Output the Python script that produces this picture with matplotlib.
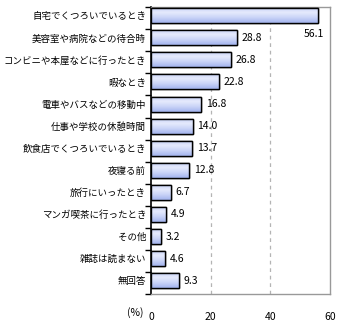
import numpy as np
import matplotlib
matplotlib.use("Agg")
import matplotlib.pyplot as plt
from matplotlib.colors import LinearSegmentedColormap

plt.rcParams["font.family"] = ["Noto Sans CJK JP", "DejaVu Sans"]
plt.rcParams["font.size"] = 7.5

categories = [
    "自宅でくつろいでいるとき",
    "美容室や病院などの待合時",
    "コンビニや本屋などに行ったとき",
    "暇なとき",
    "電車やバスなどの移動中",
    "仕事や学校の休憩時間",
    "飲食店でくつろいでいるとき",
    "夜寝る前",
    "旅行にいったとき",
    "マンガ喫茶に行ったとき",
    "その他",
    "雑誌は読まない",
    "無回答",
]
values = [56.1, 28.8, 26.8, 22.8, 16.8, 14.0, 13.7, 12.8, 6.7, 4.9, 3.2, 4.6, 9.3]
xticks = [0, 20, 40, 60]

fig = plt.figure(figsize=(3.4, 3.25), dpi=100)
ax = fig.add_axes([0.444, 0.095, 0.527, 0.883])

n = len(categories)
pos = np.arange(n) + 0.39
bar_h = 0.68

grad = LinearSegmentedColormap.from_list(
    "bar", ["#c3cdf5", "#e6ebfd", "#c9d3f7", "#a3b3ee"])
gimg = np.linspace(0, 1, 64).reshape(-1, 1)

bars = ax.barh(pos, values, height=bar_h, color="#c5cff6",
               edgecolor="black", linewidth=1.0, zorder=3)
for b in bars:
    x0, y0 = b.get_x(), b.get_y()
    w, h = b.get_width(), b.get_height()
    im = ax.imshow(gimg, cmap=grad, aspect="auto",
                   extent=(x0, x0 + w, y0 + h, y0), zorder=3.5,
                   interpolation="bicubic")
    im.set_clip_path(b)
    edge = plt.Rectangle((x0, y0), w, h, fill=False, edgecolor="black",
                         linewidth=1.0, zorder=4)
    ax.add_patch(edge)

for i, v in enumerate(values):
    if v > 50:
        ax.text(v - 1.5, pos[i] + 0.82, f"{v:.1f}", ha="center", va="center",
                fontsize=7.5, zorder=5)
    else:
        ax.text(v + 1.6, pos[i], f"{v:.1f}", ha="left", va="center",
                fontsize=7.5, zorder=5)

ax.set_xlim(0, 60)
ax.set_ylim(n, 0)
ax.set_xticks(xticks)
ax.set_xticklabels([str(t) for t in xticks])
ax.tick_params(axis="x", length=0, pad=13)

ax.set_yticks(np.arange(n + 1), minor=False)
ax.set_yticklabels([])
ax.set_yticks(pos, minor=True)
ax.set_yticklabels(categories, minor=True, fontsize=6.8)
ax.tick_params(axis="y", which="major", length=4, width=1, direction="out", color="black")
ax.tick_params(axis="y", which="minor", length=0, pad=3.5)

for x in [20, 40]:
    ax.axvline(x, color="#b4b4b4", linestyle=(0, (3, 3)), linewidth=0.9, zorder=1)

for side in ["top", "right", "bottom"]:
    ax.spines[side].set_color("#999999")
    ax.spines[side].set_linewidth(1.0)
ax.spines["left"].set_color("black")
ax.spines["left"].set_linewidth(1.2)

ax.text(-0.09, -0.065, "(%)", transform=ax.transAxes, ha="center", va="center",
        fontsize=7.5)

fig.savefig("out.png", dpi=100)
